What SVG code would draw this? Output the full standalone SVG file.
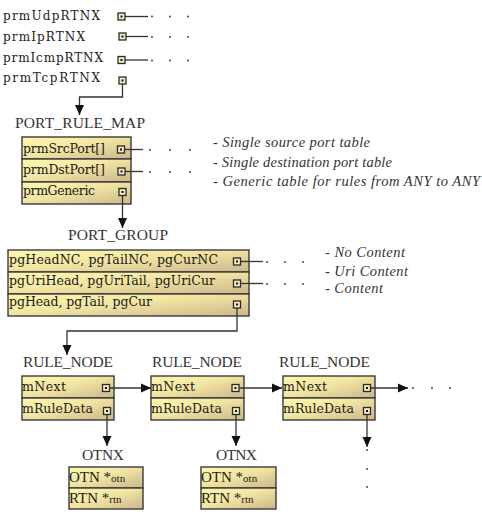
<svg xmlns="http://www.w3.org/2000/svg" width="482" height="514" viewBox="0 0 482 514">
<defs>
<linearGradient id="fillg" x1="0" y1="0" x2="1" y2="1">
<stop offset="0" stop-color="#fdf8b0"/>
<stop offset="0.45" stop-color="#f2e6a2"/>
<stop offset="1" stop-color="#cdb58c"/>
</linearGradient>
<marker id="ah" markerUnits="userSpaceOnUse" markerWidth="11" markerHeight="10" refX="10" refY="5" orient="auto">
<path d="M0,0.5 L10,5 L0,9.5 z" fill="#111"/>
</marker>
</defs>
<style>
.row{fill:url(#fillg);stroke:#3a3a3a;stroke-width:1.4}
.sq{fill:#f3ecc0;stroke:#2a2a2a;stroke-width:1.3}
.dot{fill:#111}
.rt{font-family:"DejaVu Serif",serif;font-size:12.5px;fill:#1a1a1a}
.tt{font-family:"DejaVu Serif",serif;font-size:12px;fill:#222}
.lb{font-family:"Liberation Serif",serif;font-size:15.5px;fill:#333}
.an{font-family:"Liberation Serif",serif;font-style:italic;font-size:14.5px;fill:#333}
.ot{font-family:"Liberation Serif",serif;font-size:15px;fill:#1a1a1a}
.ln{fill:none;stroke:#333;stroke-width:1.3}
.dt{fill:#333}
</style>

<g id="top-list">
<text class="tt" x="3" y="20" textLength="97">prmUdpRTNX</text>
<text class="tt" x="3" y="41" textLength="82">prmIpRTNX</text>
<text class="tt" x="3" y="62" textLength="100">prmIcmpRTNX</text>
<text class="tt" x="3" y="82" textLength="97">prmTcpRTNX</text>
<rect class="sq" x="118" y="13" width="7" height="7"/><rect class="dot" x="120.5" y="15.5" width="2" height="2"/>
<rect class="sq" x="119" y="33" width="7" height="7"/><rect class="dot" x="121.5" y="35.5" width="2" height="2"/>
<rect class="sq" x="118" y="56.5" width="7" height="7"/><rect class="dot" x="120.5" y="59" width="2" height="2"/>
<rect class="sq" x="119" y="77" width="7" height="7"/><rect class="dot" x="121.5" y="79.5" width="2" height="2"/>
</g>

<g id="port_rule_map">
<text class="lb" x="15" y="128" textLength="130">PORT_RULE_MAP</text>
<rect class="row" x="22" y="137" width="109" height="22"/>
<rect class="row" x="22" y="159" width="109" height="23"/>
<rect class="row" x="22" y="182" width="109" height="22"/>
<text class="rt" x="23" y="153" textLength="82">prmSrcPort[]</text>
<text class="rt" x="23" y="174" textLength="82">prmDstPort[]</text>
<text class="rt" x="23" y="195" textLength="72">prmGeneric</text>
<rect class="sq" x="117.5" y="146" width="7" height="7"/><rect class="dot" x="120" y="148.5" width="2" height="2"/>
<rect class="sq" x="118" y="168" width="7" height="7"/><rect class="dot" x="120.5" y="170.5" width="2" height="2"/>
<rect class="sq" x="119" y="188.5" width="7" height="7"/><rect class="dot" x="121.5" y="191" width="2" height="2"/>
<text class="an" x="213" y="147" textLength="157">- Single source port table</text>
<text class="an" x="213" y="167" textLength="179">- Single destination port table</text>
<text class="an" x="213" y="186" textLength="267">- Generic table for rules from ANY to ANY</text>
</g>

<g id="port_group">
<text class="lb" x="68" y="240" textLength="100">PORT_GROUP</text>
<rect class="row" x="8" y="250" width="241" height="22"/>
<rect class="row" x="8" y="272" width="241" height="22"/>
<rect class="row" x="8" y="294" width="241" height="22"/>
<text class="rt" x="9" y="264" textLength="209">pgHeadNC, pgTailNC, pgCurNC</text>
<text class="rt" x="9" y="285" textLength="206">pgUriHead, pgUriTail, pgUriCur</text>
<text class="rt" x="9" y="306" textLength="143">pgHead, pgTail, pgCur</text>
<rect class="sq" x="233.5" y="258" width="7" height="7"/><rect class="dot" x="236" y="260.5" width="2" height="2"/>
<rect class="sq" x="233.5" y="280" width="7" height="7"/><rect class="dot" x="236" y="282.5" width="2" height="2"/>
<rect class="sq" x="233.5" y="301" width="7" height="7"/><rect class="dot" x="236" y="303.5" width="2" height="2"/>
<text class="an" x="325" y="257" textLength="80">- No Content</text>
<text class="an" x="325" y="276" textLength="83">- Uri Content</text>
<text class="an" x="325" y="293" textLength="58">- Content</text>
</g>

<g id="rule_node_1">
<text class="lb" x="23" y="367" textLength="90">RULE_NODE</text>
<rect class="row" x="22" y="376" width="92" height="22"/>
<rect class="row" x="22" y="398" width="92" height="22"/>
<text class="rt" x="22" y="391" textLength="44">mNext</text>
<text class="rt" x="22" y="413" textLength="71">mRuleData</text>
<rect class="sq" x="102.5" y="384.5" width="7" height="7"/><rect class="dot" x="105" y="387" width="2" height="2"/>
<rect class="sq" x="103.5" y="407.5" width="7" height="7"/><rect class="dot" x="106" y="410" width="2" height="2"/>
</g>
<g id="rule_node_2">
<text class="lb" x="152" y="367" textLength="90">RULE_NODE</text>
<rect class="row" x="151" y="376" width="93" height="22"/>
<rect class="row" x="151" y="398" width="93" height="22"/>
<text class="rt" x="151" y="391" textLength="44">mNext</text>
<text class="rt" x="151" y="413" textLength="71">mRuleData</text>
<rect class="sq" x="232" y="384.5" width="7" height="7"/><rect class="dot" x="234.5" y="387" width="2" height="2"/>
<rect class="sq" x="232.5" y="407.5" width="7" height="7"/><rect class="dot" x="235" y="410" width="2" height="2"/>
</g>
<g id="rule_node_3">
<text class="lb" x="279" y="367" textLength="91">RULE_NODE</text>
<rect class="row" x="283" y="376" width="92" height="22"/>
<rect class="row" x="283" y="398" width="92" height="22"/>
<text class="rt" x="283" y="391" textLength="44">mNext</text>
<text class="rt" x="283" y="413" textLength="71">mRuleData</text>
<rect class="sq" x="363.5" y="384.5" width="7" height="7"/><rect class="dot" x="366" y="387" width="2" height="2"/>
<rect class="sq" x="363.5" y="407.5" width="7" height="7"/><rect class="dot" x="366" y="410" width="2" height="2"/>
</g>

<g id="otnx_1">
<text class="lb" x="82" y="460" textLength="42">OTNX</text>
<rect class="row" x="69" y="467" width="74" height="21"/>
<rect class="row" x="69" y="488" width="74" height="21"/>
<text class="ot" x="69" y="482">OTN *<tspan font-size="11">otn</tspan></text>
<text class="ot" x="69" y="503">RTN *<tspan font-size="11">rtn</tspan></text>
</g>
<g id="otnx_2">
<text class="lb" x="216" y="460" textLength="41">OTNX</text>
<rect class="row" x="201" y="467" width="75" height="21"/>
<rect class="row" x="201" y="488" width="75" height="21"/>
<text class="ot" x="201" y="482">OTN *<tspan font-size="11">otn</tspan></text>
<text class="ot" x="201" y="503">RTN *<tspan font-size="11">rtn</tspan></text>
</g>

<g id="connectors">
<path class="ln" d="M125,16.5 H148"/>
<path class="ln" d="M126,36.5 H148"/>
<path class="ln" d="M125,60 H148"/>
<circle class="dt" cx="152" cy="16.5" r="0.9"/><circle class="dt" cx="170" cy="16.5" r="0.9"/><circle class="dt" cx="188" cy="16.5" r="0.9"/>
<circle class="dt" cx="152" cy="37" r="0.9"/><circle class="dt" cx="170" cy="37" r="0.9"/><circle class="dt" cx="188" cy="37" r="0.9"/>
<circle class="dt" cx="152" cy="60.5" r="0.9"/><circle class="dt" cx="170" cy="60.5" r="0.9"/><circle class="dt" cx="188" cy="60.5" r="0.9"/>
<path class="ln" d="M122.5,84 V97 H79.5 V115" marker-end="url(#ah)"/>

<path class="ln" d="M124.5,149.5 H143"/>
<path class="ln" d="M125,171.5 H143"/>
<circle class="dt" cx="150" cy="150" r="0.9"/><circle class="dt" cx="170" cy="150" r="0.9"/><circle class="dt" cx="190" cy="150" r="0.9"/>
<circle class="dt" cx="150" cy="172" r="0.9"/><circle class="dt" cx="170" cy="172" r="0.9"/><circle class="dt" cx="190" cy="172" r="0.9"/>
<path class="ln" d="M122.5,195.5 V228" marker-end="url(#ah)"/>

<path class="ln" d="M240.5,261.5 H263"/>
<path class="ln" d="M240.5,283.5 H263"/>
<circle class="dt" cx="267" cy="262" r="0.9"/><circle class="dt" cx="285" cy="262" r="0.9"/><circle class="dt" cx="303" cy="262" r="0.9"/>
<circle class="dt" cx="267" cy="284" r="0.9"/><circle class="dt" cx="285" cy="284" r="0.9"/><circle class="dt" cx="303" cy="284" r="0.9"/>
<path class="ln" d="M237,308 V331 H67 V355" marker-end="url(#ah)"/>

<path class="ln" d="M109.5,388 H151" marker-end="url(#ah)"/>
<path class="ln" d="M239,388 H282" marker-end="url(#ah)"/>
<path class="ln" d="M370.5,388 H408" marker-end="url(#ah)"/>
<circle class="dt" cx="413" cy="388" r="0.9"/><circle class="dt" cx="432" cy="388" r="0.9"/><circle class="dt" cx="450" cy="388" r="0.9"/>

<path class="ln" d="M107,414.5 V446" marker-end="url(#ah)"/>
<path class="ln" d="M236,414.5 V446" marker-end="url(#ah)"/>
<path class="ln" d="M367,414.5 V447" marker-end="url(#ah)"/>
<circle class="dt" cx="367" cy="450" r="0.9"/><circle class="dt" cx="367" cy="469" r="0.9"/><circle class="dt" cx="367" cy="487" r="0.9"/>
</g>
</svg>
